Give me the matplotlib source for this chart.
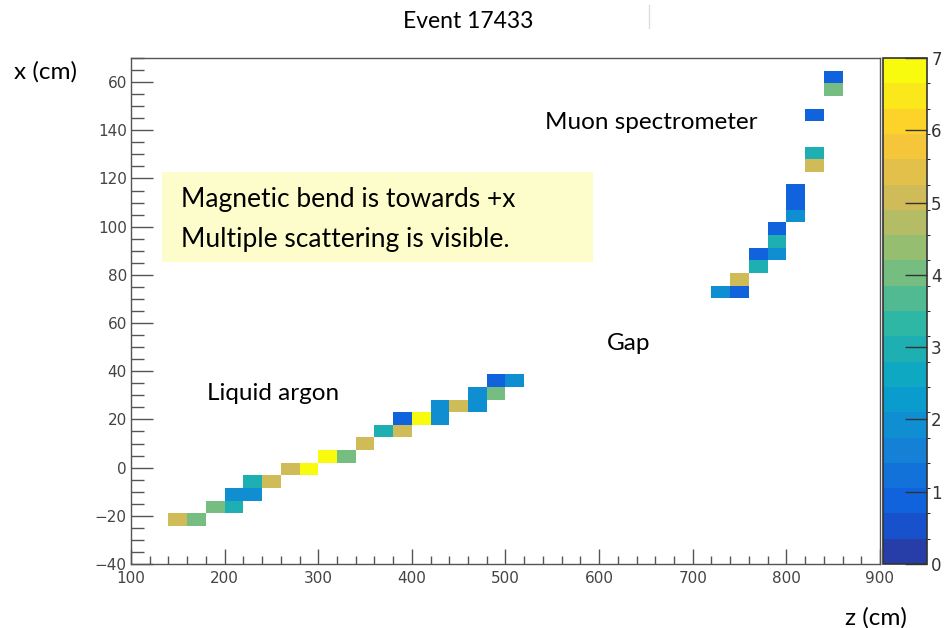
import numpy as np
import matplotlib
matplotlib.use("Agg")
import matplotlib.pyplot as plt
from matplotlib.colors import LinearSegmentedColormap, ListedColormap, BoundaryNorm
from matplotlib.patches import Rectangle
from matplotlib.lines import Line2D
from matplotlib.ticker import MultipleLocator, FixedLocator

# hit cells: z and x of each cell (cm) and the charge in it
z_hits = [150, 170, 190, 210, 210, 230, 230, 250, 270, 290, 310, 330, 350,
          370, 390, 390, 410, 430, 430, 450, 470, 470, 490, 490, 510,
          730, 750, 750, 770, 770, 790, 790, 790, 810, 810, 810,
          830, 830, 830, 850, 850]
x_hits = [-21.6, -21.6, -16.4, -16.4, -11.1, -11.1, -5.9, -5.9, -0.6, -0.6,
          4.6, 4.6, 9.9, 15.1, 15.1, 20.4, 20.4, 20.4, 25.6, 25.6, 25.6,
          30.9, 30.9, 36.1, 36.1,
          72.9, 72.9, 78.1, 83.4, 88.6, 88.6, 93.9, 99.1, 104.4, 109.6, 114.9,
          125.4, 130.6, 146.4, 156.9, 162.1]
q_hits = [5.1, 4.0, 4.0, 3.0, 2.0, 1.9, 3.0, 5.1, 5.1, 6.9, 6.9, 4.0, 5.1,
          3.0, 5.1, 0.9, 6.9, 2.0, 2.0, 5.1, 2.0, 2.0, 4.0, 0.9, 2.0,
          2.0, 0.9, 5.1, 3.0, 0.9, 2.0, 3.0, 0.9, 2.0, 0.9, 0.9,
          5.1, 3.0, 0.9, 4.0, 0.9]

z_range = (100, 900)
x_range = (-40, 170)
n_bins = 40
q_max = 7

ytick_vals = [-40, -20, 0, 20, 40, 60, 80, 100, 120, 140, 160]
ytick_text = ["\u221240", "\u221220", "0", "20", "40", "60", "80", "100", "120", "140", "60"]

W, H = 945, 628


def fx(px):
    return px / W


def fy(py):
    return 1 - py / H


# ROOT kBird palette, cut into 20 contour colours
bird_r = [0.2082, 0.0592, 0.0780, 0.0232, 0.1802, 0.5301, 0.8186, 0.9956, 0.9764]
bird_g = [0.1664, 0.3599, 0.5041, 0.6419, 0.7178, 0.7492, 0.7328, 0.7862, 0.9832]
bird_b = [0.5293, 0.8684, 0.8385, 0.7914, 0.6425, 0.4662, 0.3499, 0.1968, 0.0539]
bird = LinearSegmentedColormap.from_list(
    "bird", list(zip(np.linspace(0, 1, 9), zip(bird_r, bird_g, bird_b))))
n_lev = 20
cmap = ListedColormap([bird((i + 0.99) / n_lev) for i in range(n_lev)])
norm = BoundaryNorm(np.linspace(0, q_max, n_lev + 1), n_lev)

hist, zedges, xedges = np.histogram2d(z_hits, x_hits, bins=n_bins,
                                      range=[z_range, x_range], weights=q_hits)
hist = np.ma.masked_equal(hist, 0)

fig = plt.figure(figsize=(W / 100, H / 100), dpi=100)
ax = fig.add_axes([fx(131), fy(564), fx(880) - fx(131), fy(58) - fy(564)])
mesh = ax.pcolormesh(zedges, xedges, hist.T, cmap=cmap, norm=norm)

ax.set_xlim(*z_range)
ax.set_ylim(*x_range)

axis_grey = "#555555"
for s in ax.spines.values():
    s.set_color(axis_grey)
    s.set_linewidth(1.0)

ax.xaxis.set_major_locator(MultipleLocator(100))
ax.xaxis.set_minor_locator(MultipleLocator(20))
ax.yaxis.set_major_locator(FixedLocator(ytick_vals))
ax.yaxis.set_minor_locator(MultipleLocator(5))
ax.set_yticklabels(ytick_text)
ax.tick_params(axis="x", which="major", direction="in", length=11, width=1,
               color=axis_grey, pad=5)
ax.tick_params(axis="x", which="minor", direction="in", length=6, width=1,
               color=axis_grey)
ax.tick_params(axis="y", which="major", direction="in", length=16, width=1,
               color=axis_grey, pad=3)
ax.tick_params(axis="y", which="minor", direction="in", length=9, width=1,
               color=axis_grey)
for lab in ax.get_xticklabels() + ax.get_yticklabels():
    lab.set_fontfamily("DejaVu Sans")
    lab.set_fontsize(11)
    lab.set_color("#444444")

# colour scale on the right
cax = fig.add_axes([fx(883), fy(564), fx(927) - fx(883), fy(58) - fy(564)])
cb = fig.colorbar(mesh, cax=cax, ticks=range(0, q_max + 1))
cb.outline.set_edgecolor("#333333")
cb.outline.set_linewidth(1.2)
cax.tick_params(axis="y", direction="in", length=16, width=1, color="#333333",
                pad=3)
for lab in cax.get_yticklabels():
    lab.set_fontfamily("DejaVu Sans")
    lab.set_fontsize(12)
    lab.set_color("#333333")

note_font = dict(family="Lato", color="black")
fig.text(fx(468), fy(21), "Event 17433", ha="center", va="center", fontsize=16.5, **note_font)
fig.text(fx(14), fy(72), "x (cm)", ha="left", va="center", fontsize=17.5, **note_font)
fig.text(fx(845), fy(618), "z (cm)", ha="left", va="center", fontsize=17.5, **note_font)
fig.text(fx(545), fy(122), "Muon spectrometer", ha="left", va="center", fontsize=17.5, **note_font)
fig.text(fx(607), fy(343), "Gap", ha="left", va="center", fontsize=17.5, **note_font)
fig.text(fx(207), fy(394), "Liquid argon", ha="left", va="center", fontsize=17.5, **note_font)

# note box
fig.patches.append(Rectangle((fx(162), fy(262)), fx(593) - fx(162), fy(172) - fy(262),
                             transform=fig.transFigure, facecolor="#fdfdcb",
                             edgecolor="none", zorder=3))
fig.text(fx(181), fy(200), "Magnetic bend is towards +x", ha="left", va="center",
         fontsize=19, zorder=4, **note_font)
fig.text(fx(181), fy(239), "Multiple scattering is visible.", ha="left", va="center",
         fontsize=19, zorder=4, **note_font)

# faint stray mark at the top
fig.lines.append(Line2D([fx(649), fx(649)], [fy(5), fy(28)], transform=fig.transFigure,
                        color="#dddddd", linewidth=1))

fig.savefig("out.png", dpi=100)
